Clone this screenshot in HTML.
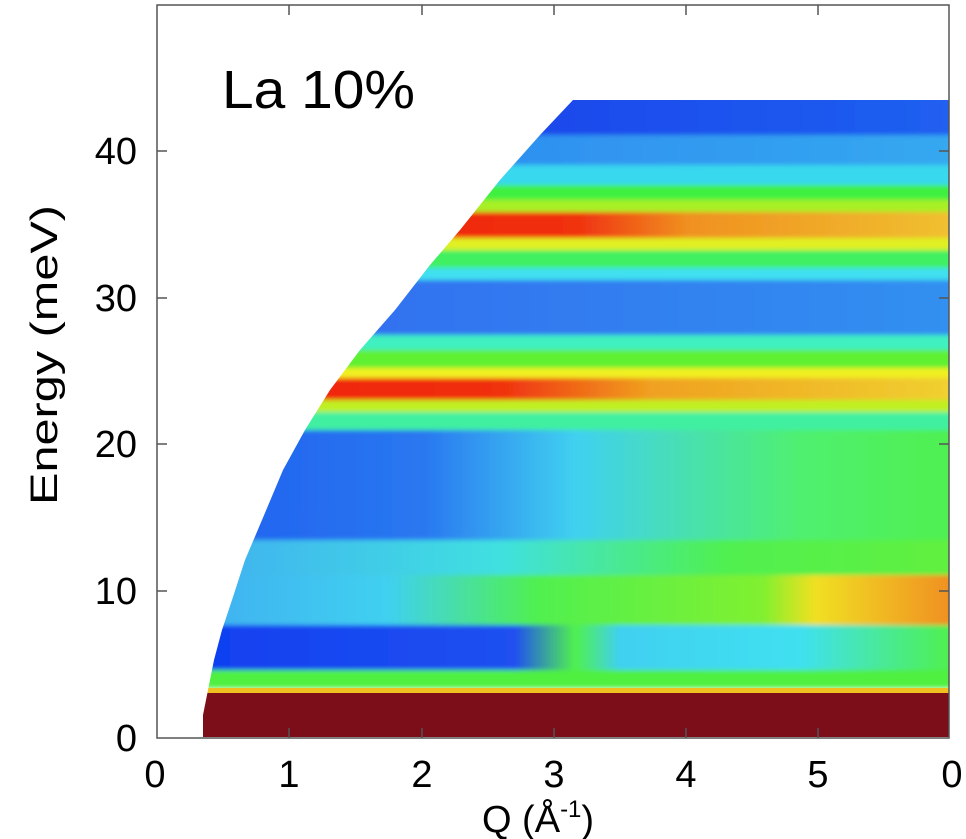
<!DOCTYPE html>
<html><head><meta charset="utf-8"><style>
body{margin:0;background:#fff;width:966px;height:839px;overflow:hidden}
svg{display:block}
text{font-family:"Liberation Sans",sans-serif;fill:#000}
</style></head><body>
<svg width="966" height="839" viewBox="0 0 966 839">
<defs>
<clipPath id="c"><path d="M203,737 L203,715 L208,690 L214,660 L222,630 L232,600 L245,560 L262,520 L283,470 L305,430 L330,390 L360,350 L395,310 L430,265 L460,230 L500,180 L540,135 L573,100 L949,100 L949,737 Z"/></clipPath>
<filter id="b" x="-5%" y="-5%" width="110%" height="110%"><feGaussianBlur stdDeviation="1.5 2.5"/></filter>
<linearGradient id="g1" x1="200" x2="950" gradientUnits="userSpaceOnUse"><stop offset="0" stop-color="#1535e8"/><stop offset="1" stop-color="#2060f0"/></linearGradient>
<linearGradient id="g2" x1="200" x2="950" gradientUnits="userSpaceOnUse"><stop offset="0" stop-color="#2a80f0"/><stop offset="1" stop-color="#35a8f0"/></linearGradient>
<linearGradient id="g6" x1="200" x2="950" gradientUnits="userSpaceOnUse"><stop offset="0" stop-color="#f02010"/><stop offset="0.5" stop-color="#f03010"/><stop offset="0.65" stop-color="#f09020"/><stop offset="1" stop-color="#f0c030"/></linearGradient>
<linearGradient id="g14" x1="200" x2="950" gradientUnits="userSpaceOnUse"><stop offset="0" stop-color="#f02010"/><stop offset="0.4" stop-color="#f03010"/><stop offset="0.6" stop-color="#f0a020"/><stop offset="1" stop-color="#f0d030"/></linearGradient>
<linearGradient id="g10" x1="200" x2="950" gradientUnits="userSpaceOnUse"><stop offset="0" stop-color="#40a0f0"/><stop offset="0.2" stop-color="#3070f0"/><stop offset="1" stop-color="#3090f0"/></linearGradient>
<linearGradient id="g17" x1="200" x2="950" gradientUnits="userSpaceOnUse"><stop offset="0" stop-color="#2060f0"/><stop offset="0.3" stop-color="#2a78f0"/><stop offset="0.5" stop-color="#40d0f0"/><stop offset="0.8" stop-color="#50f070"/><stop offset="1" stop-color="#50f050"/></linearGradient>
<linearGradient id="g18" x1="200" x2="950" gradientUnits="userSpaceOnUse"><stop offset="0" stop-color="#40b0f0"/><stop offset="0.4" stop-color="#40e0e0"/><stop offset="0.7" stop-color="#50f050"/><stop offset="1" stop-color="#60f040"/></linearGradient>
<linearGradient id="g19" x1="200" x2="950" gradientUnits="userSpaceOnUse"><stop offset="0" stop-color="#40b0f0"/><stop offset="0.25" stop-color="#40d0f0"/><stop offset="0.45" stop-color="#50f050"/><stop offset="0.75" stop-color="#80f030"/><stop offset="0.82" stop-color="#f0e020"/><stop offset="1" stop-color="#f09020"/></linearGradient>
<linearGradient id="g20" x1="200" x2="950" gradientUnits="userSpaceOnUse"><stop offset="0" stop-color="#1040f0"/><stop offset="0.42" stop-color="#2050f0"/><stop offset="0.5" stop-color="#50f050"/><stop offset="0.56" stop-color="#40d0f0"/><stop offset="0.8" stop-color="#40e0f0"/><stop offset="1" stop-color="#50f050"/></linearGradient>
</defs>
<g clip-path="url(#c)">
<g filter="url(#b)">
<rect x="190" y="95" width="770" height="40" fill="url(#g1)"/>
<rect x="190" y="135" width="770" height="30" fill="url(#g2)"/>
<rect x="190" y="165" width="770" height="20" fill="#38d8ee"/>
<rect x="190" y="185" width="770" height="15" fill="#40f040"/>
<rect x="190" y="200" width="770" height="12" fill="#a8f028"/>
<rect x="190" y="212" width="770" height="26" fill="url(#g6)"/>
<rect x="190" y="238" width="770" height="12" fill="#e0f020"/>
<rect x="190" y="250" width="770" height="18" fill="#40f060"/>
<rect x="190" y="268" width="770" height="12" fill="#40e0f0"/>
<rect x="190" y="280" width="770" height="55" fill="url(#g10)"/>
<rect x="190" y="335" width="770" height="15" fill="#40f0c0"/>
<rect x="190" y="350" width="770" height="18" fill="#60f030"/>
<rect x="190" y="368" width="770" height="10" fill="#f0f020"/>
<rect x="190" y="378" width="770" height="22" fill="url(#g14)"/>
<rect x="190" y="400" width="770" height="12" fill="#c0f020"/>
<rect x="190" y="412" width="770" height="18" fill="#40f0a0"/>
<rect x="190" y="430" width="770" height="110" fill="url(#g17)"/>
<rect x="190" y="540" width="770" height="35" fill="url(#g18)"/>
<rect x="190" y="575" width="770" height="50" fill="url(#g19)"/>
<rect x="190" y="625" width="770" height="45" fill="url(#g20)"/>
<rect x="190" y="670" width="770" height="18" fill="#50f040"/>
</g>
<rect x="190" y="688" width="770" height="5" fill="#f0c020"/>
<rect x="190" y="693" width="770" height="50" fill="#7c0e1a"/>
</g>
<g stroke="#555" stroke-width="1.5" fill="none">
<rect x="157" y="5" width="792" height="733"/>
<path d="M289,738v-10M422,738v-10M554,738v-10M686,738v-10M818,738v-10M289,5v10M422,5v10M554,5v10M686,5v10M818,5v10M157,591h10M157,444h10M157,298h10M157,151h10M949,591h-10M949,444h-10M949,298h-10M949,151h-10"/>
</g>
<text x="222" y="108" font-size="54" textLength="193" lengthAdjust="spacingAndGlyphs">La 10%</text>
<g font-size="38" text-anchor="end">
<text x="137" y="751">0</text><text x="137" y="604">10</text><text x="137" y="457">20</text><text x="137" y="311">30</text><text x="137" y="164">40</text>
</g>
<g font-size="38" text-anchor="middle">
<text x="155" y="787">0</text><text x="289" y="787">1</text><text x="422" y="787">2</text><text x="554" y="787">3</text><text x="686" y="787">4</text><text x="818" y="787">5</text><text x="952" y="787">0</text>
</g>
<text x="538" y="832" font-size="38" text-anchor="middle">Q (Å<tspan font-size="24" dy="-15">-1</tspan><tspan dy="15">)</tspan></text>
<text transform="translate(57,355) rotate(-90)" font-size="38" text-anchor="middle" textLength="300" lengthAdjust="spacingAndGlyphs">Energy (meV)</text>
</svg>
</body></html>
